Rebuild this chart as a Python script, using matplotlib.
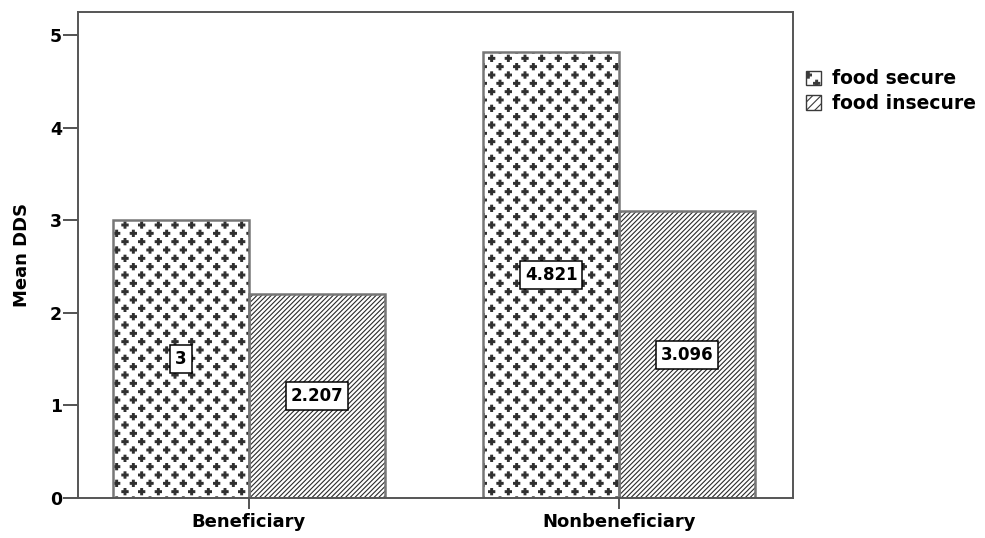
import numpy as np
import matplotlib
matplotlib.use("Agg")
import matplotlib.pyplot as plt
import matplotlib.hatch as mhatch
from matplotlib.path import Path
from matplotlib.patches import Patch

# data
groups = ["Beneficiary", "Nonbeneficiary"]
series = ["food secure", "food insecure"]
secure_vals = [3.0, 4.821]
insecure_vals = [2.207, 3.096]
secure_lbls = ["3", "4.821"]
insecure_lbls = ["2.207", "3.096"]


# staggered "+" fill like the SPSS pattern, used as hatch 'p'
class PlusHatch(mhatch.HatchPatternBase):
    def __init__(self, hatch, density):
        self.n = 6 if "p" in hatch else 0
        a, t = 0.031, 0.009
        self.shape = np.array([
            (-t, -a), (t, -a), (t, -t), (a, -t), (a, t), (t, t),
            (t, a), (-t, a), (-t, t), (-a, t), (-a, -t), (-t, -t), (-t, -a)])
        n = self.n
        self.num_vertices = ((n + 1) ** 2 + n ** 2) * len(self.shape) if n else 0

    def set_vertices_and_codes(self, vertices, codes):
        n = self.n
        k = len(self.shape)
        shape_codes = np.full(k, Path.LINETO, dtype=Path.code_type)
        shape_codes[0] = Path.MOVETO
        shape_codes[-1] = Path.CLOSEPOLY
        cur = 0
        for row in range(2 * n + 1):
            if row % 2 == 0:
                cols = np.linspace(0, 1, n + 1)
            else:
                cols = (np.arange(n) + 0.5) / n
            y = row / (2 * n)
            for x in cols:
                vertices[cur:cur + k] = self.shape + (x, y)
                codes[cur:cur + k] = shape_codes
                cur += k


mhatch._hatch_types.append(PlusHatch)

plt.rcParams["font.family"] = ["DejaVu Sans"]
plt.rcParams["font.weight"] = "bold"
plt.rcParams["hatch.linewidth"] = 0.8

fig = plt.figure(figsize=(9.85, 5.38), dpi=100)
ax = fig.add_axes([0.0792, 0.0743, 0.7259, 0.9034])

x = np.arange(len(groups))
w = 0.367
edge = "#777777"

# hatch layer, then outline layer
ax.bar(x - w / 2, secure_vals, w, color="white", edgecolor="#2e2e2e", hatch="p", lw=0)
ax.bar(x + w / 2, insecure_vals, w, color="white", edgecolor="#2a2a2a", hatch="///////", lw=0)
ax.bar(x - w / 2, secure_vals, w, fill=False, edgecolor=edge, lw=1.8)
ax.bar(x + w / 2, insecure_vals, w, fill=False, edgecolor=edge, lw=1.8)

box = dict(boxstyle="square,pad=0.3", fc="white", ec="black", lw=1.1)
for xi, v, s in zip(x - w / 2, secure_vals, secure_lbls):
    ax.text(xi, v / 2, s, ha="center", va="center", fontsize=12, fontweight="bold", bbox=box)
for xi, v, s in zip(x + w / 2, insecure_vals, insecure_lbls):
    ax.text(xi, v / 2, s, ha="center", va="center", fontsize=12, fontweight="bold", bbox=box)

ax.set_xlim(-0.462, 1.47)
ax.set_ylim(0, 5.25)
ax.set_xticks(x)
ax.set_xticklabels(groups, fontsize=13, fontweight="bold")
ax.set_yticks(range(6))
ax.set_yticklabels([str(i) for i in range(6)], fontsize=12.5, fontweight="bold")
ax.set_ylabel("Mean DDS", fontsize=13, fontweight="bold")
ax.yaxis.set_label_coords(-0.066, 0.5)
ax.tick_params(axis="y", direction="out", length=10.5, width=1.3, color="#444444", pad=1)
ax.tick_params(axis="x", direction="out", length=8, width=1.3, color="#444444", pad=3)
for sp in ax.spines.values():
    sp.set_color("#555555")
    sp.set_linewidth(1.4)

handles = [Patch(facecolor="white", edgecolor="#3a3a3a", hatch="p", lw=1.0),
           Patch(facecolor="white", edgecolor="#3a3a3a", hatch="////", lw=1.0)]
fig.legend(handles, series, loc="upper left", bbox_to_anchor=(0.803, 0.899),
           frameon=False, handlelength=0.8, handleheight=0.8, handletextpad=0.6,
           labelspacing=0.3, borderpad=0.3, prop={"size": 13.5, "weight": "bold"})

fig.savefig("out.png", dpi=100)
